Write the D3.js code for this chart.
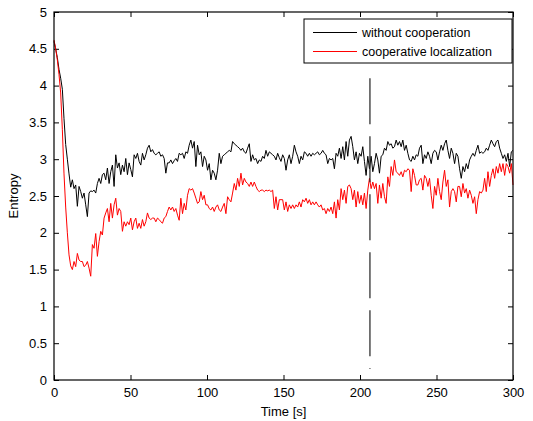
<!DOCTYPE html>
<html><head><meta charset="utf-8">
<script src="https://cdn.jsdelivr.net/npm/d3@7"></script>
<style>body{margin:0;background:#fff;} text{font-family:"Liberation Sans",Arial,sans-serif;}</style>
</head><body><svg id="c" width="533" height="421"></svg>
<script>
const seriesNames = ["without cooperation", "cooperative localization"];
const seriesColors = ["#000000", "#ff0000"];
const xTicks = [0, 50, 100, 150, 200, 250, 300];
const yTicks = [0, 0.5, 1, 1.5, 2, 2.5, 3, 3.5, 4, 4.5, 5];
const tEnd = 300;
const markerTime = 206.5;
const markerRange = [0.15, 4.1];
const withoutCoop = [
4.6,4.5,4.38,4.22,4.1,3.95,3.55,3.2,3.0,2.8,2.62,2.72,2.6,2.65,2.36,2.63,2.56,2.47,2.54,2.38,
2.22,2.54,2.57,2.56,2.58,2.54,2.67,2.74,2.67,2.79,2.81,2.72,2.88,2.67,2.83,2.92,2.63,3.06,2.88,2.95,
2.79,2.92,2.83,3.01,2.79,2.95,2.86,2.76,3.06,3.01,3.08,2.97,2.92,3.08,2.99,3.06,3.15,3.19,3.1,3.13,
3.08,3.06,3.08,3.1,3.04,3.06,3.01,2.81,2.95,2.95,2.99,2.94,2.98,3.01,2.97,3.08,3.06,3.08,3.01,3.10,
3.08,3.19,3.26,3.15,3.24,2.90,3.19,3.06,3.10,2.90,3.04,2.99,2.85,2.94,2.72,2.85,2.81,2.72,2.85,3.08,
2.94,3.04,3.06,3.08,3.10,3.12,3.10,3.24,3.21,3.19,3.17,3.15,3.12,3.15,3.10,3.08,3.15,3.21,2.97,3.06,
2.99,3.01,2.94,2.99,2.97,3.04,3.01,3.12,3.04,3.10,3.08,3.06,3.04,2.99,3.08,3.02,2.97,3.06,3.01,2.85,
2.99,3.06,2.94,3.04,3.19,3.10,3.04,2.94,3.04,2.99,3.10,3.08,3.04,3.08,3.04,3.08,3.06,3.08,3.10,3.06,
3.08,3.12,3.08,3.06,2.94,3.01,2.99,3.01,2.87,3.08,3.04,3.15,3.01,3.17,2.99,3.24,3.04,3.26,3.31,3.17,
2.99,3.10,2.94,3.08,3.04,3.17,2.97,2.78,3.04,2.87,3.04,2.83,2.94,3.08,2.99,2.81,3.04,3.06,3.15,3.12,
3.24,3.19,3.21,3.15,3.17,3.26,3.19,3.24,3.17,3.26,3.12,3.19,3.08,2.99,2.97,3.04,2.99,3.06,3.04,3.15,
3.19,2.94,3.06,3.01,3.10,3.04,2.94,3.08,3.12,3.10,2.99,3.10,3.19,3.12,3.21,3.26,3.12,3.01,3.15,3.08,
2.94,3.08,3.04,2.87,2.74,2.90,2.83,2.94,2.87,2.99,3.04,3.08,3.04,3.12,3.19,3.08,3.10,3.08,3.10,3.15,
3.12,3.19,3.26,3.21,3.17,3.24,3.26,3.15,3.08,3.01,3.06,2.97,3.08,2.90,3.10,3.12
];
const cooperative = [
4.62,4.5,4.35,4.15,3.9,3.4,2.8,2.35,2.0,1.7,1.55,1.5,1.61,1.54,1.72,1.63,1.61,1.61,1.54,1.56,
1.61,1.52,1.41,1.84,1.79,1.99,1.68,1.88,2.02,1.97,2.2,2.27,2.33,2.15,2.4,2.2,2.38,2.47,2.24,2.33,
2.29,2.02,2.15,2.09,2.15,2.11,2.2,2.04,2.15,2.2,2.06,2.13,2.06,2.18,2.09,2.15,2.27,2.2,2.18,2.2,
2.2,2.15,2.2,2.18,2.15,2.13,2.2,2.22,2.29,2.35,2.31,2.35,2.29,2.33,2.24,2.17,2.47,2.26,2.4,2.31,
2.51,2.6,2.58,2.6,2.54,2.47,2.4,2.42,2.56,2.45,2.51,2.38,2.38,2.33,2.31,2.35,2.29,2.35,2.38,2.31,
2.29,2.35,2.4,2.26,2.49,2.45,2.42,2.54,2.67,2.58,2.74,2.63,2.81,2.65,2.74,2.69,2.67,2.63,2.69,2.63,
2.69,2.63,2.58,2.56,2.58,2.58,2.56,2.58,2.57,2.58,2.56,2.58,2.33,2.49,2.31,2.45,2.45,2.45,2.31,2.42,
2.29,2.38,2.33,2.38,2.33,2.38,2.35,2.42,2.35,2.45,2.42,2.47,2.4,2.45,2.38,2.42,2.38,2.42,2.38,2.35,
2.38,2.31,2.33,2.26,2.33,2.29,2.35,2.26,2.42,2.2,2.45,2.31,2.6,2.45,2.58,2.4,2.63,2.65,2.6,2.45,
2.58,2.35,2.56,2.4,2.51,2.38,2.54,2.33,2.58,2.74,2.6,2.69,2.6,2.67,2.4,2.65,2.47,2.67,2.49,2.4,
2.76,2.63,2.9,2.78,2.99,2.83,2.81,2.78,2.83,2.76,2.85,2.83,2.87,2.85,2.56,2.87,2.78,2.65,2.65,2.72,
2.74,2.58,2.78,2.74,2.63,2.74,2.51,2.33,2.63,2.51,2.74,2.56,2.45,2.69,2.85,2.63,2.72,2.35,2.56,2.6,
2.56,2.42,2.63,2.63,2.49,2.67,2.54,2.6,2.47,2.58,2.51,2.4,2.49,2.26,2.45,2.56,2.54,2.58,2.74,2.56,
2.83,2.63,2.78,2.87,2.74,2.9,2.81,2.94,2.83,2.94,2.78,2.94,2.9,2.81,2.94,2.65
];

const svg = d3.select("#c");
const m = {left: 54, top: 12, right: 20, bottom: 41};
const W = 533 - m.left - m.right, H = 421 - m.top - m.bottom;
const x = d3.scaleLinear().domain([0, tEnd]).range([0, W]);
const y = d3.scaleLinear().domain([0, 5]).range([H, 0]);
const g = svg.append("g").attr("transform", `translate(${m.left},${m.top})`);

function styleAxis(sel, labels) {
  sel.select(".domain").remove();
  sel.selectAll("line").attr("stroke", "#000");
  sel.selectAll("text").attr("font-size", 13).attr("fill", "#000")
    .attr("font-family", "Liberation Sans, Arial, sans-serif");
  if (!labels) sel.selectAll("text").remove();
}
const tl = 5;
g.append("g").attr("transform", `translate(0,${H})`)
  .call(d3.axisBottom(x).tickValues(xTicks).tickSize(-tl).tickPadding(8).tickFormat(d3.format("d")))
  .call(s => styleAxis(s, true));
g.append("g")
  .call(d3.axisTop(x).tickValues(xTicks).tickSize(-tl))
  .call(s => styleAxis(s, false));
g.append("g")
  .call(d3.axisLeft(y).tickValues(yTicks).tickSize(-tl).tickPadding(7).tickFormat(d => String(d)))
  .call(s => styleAxis(s, true));
g.append("g").attr("transform", `translate(${W},0)`)
  .call(d3.axisRight(y).tickValues(yTicks).tickSize(-tl))
  .call(s => styleAxis(s, false));

const dt = tEnd / (withoutCoop.length - 1);
const line = d3.line().x((d, i) => x(i * dt)).y(d => y(d));
[withoutCoop, cooperative].forEach((s, k) => {
  g.append("path").datum(s).attr("d", line).attr("fill", "none")
    .attr("stroke", seriesColors[k]).attr("stroke-width", 1).attr("stroke-linejoin", "round");
});

g.append("line")
  .attr("x1", x(markerTime)).attr("x2", x(markerTime))
  .attr("y1", y(markerRange[1])).attr("y2", y(markerRange[0]))
  .attr("stroke", "#222").attr("stroke-width", 1.2).attr("stroke-dasharray", "46,12");

g.append("rect").attr("x", 0).attr("y", 0).attr("width", W).attr("height", H)
  .attr("fill", "none").attr("stroke", "#000").attr("stroke-width", 1.2);

// legend
const lg = svg.append("g").attr("transform", "translate(304,19)");
lg.append("rect").attr("width", 208).attr("height", 44).attr("fill", "#fff")
  .attr("stroke", "#000").attr("stroke-width", 1);
seriesNames.forEach((n, k) => {
  const yy = 13.5 + k * 19;
  lg.append("line").attr("x1", 9).attr("x2", 53).attr("y1", yy).attr("y2", yy)
    .attr("stroke", seriesColors[k]).attr("stroke-width", 1);
  lg.append("text").attr("x", 58).attr("y", yy + 4.5).attr("font-size", 12.5).text(n);
});

svg.append("text").attr("x", m.left + W / 2).attr("y", 416).attr("text-anchor", "middle")
  .attr("font-size", 13).text("Time [s]");
svg.append("text").attr("transform", `translate(18,${m.top + H / 2}) rotate(-90)`)
  .attr("text-anchor", "middle").attr("font-size", 13).text("Entropy");
</script></body></html>
